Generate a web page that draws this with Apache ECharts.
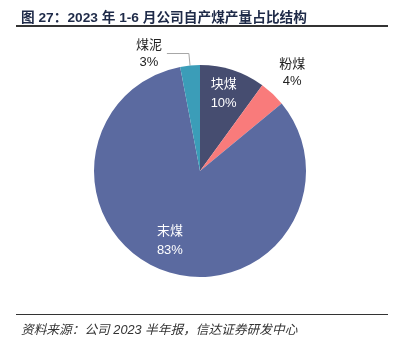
<!DOCTYPE html>
<html>
<head>
<meta charset="utf-8">
<script src="https://cdn.jsdelivr.net/npm/echarts@6/dist/echarts.min.js"></script>
<style>
  html, body { margin: 0; padding: 0; background: #fff; }
  #chart { width: 404px; height: 341px; }
</style>
</head>
<body>
<div id="chart"></div>
<script>
// 2023 H1 self-produced coal output mix
const categories = ['块煤', '粉煤', '末煤', '煤泥'];
const shares = [10, 4, 83, 3];
const colors = ['#464d70', '#f97b7b', '#5b6aa0', '#3b9db8'];
const insideLabelled = ['块煤', '末煤'];

const titleText = '图 27：2023 年 1-6 月公司自产煤产量占比结构';
const sourceText = '资料来源：公司 2023 半年报，信达证券研发中心';

const FONT = '"Liberation Sans", "Noto Sans CJK SC", sans-serif';

const pieData = categories.map((name, i) => ({
  name,
  value: shares[i],
  itemStyle: { color: colors[i] }
}));

const chart = echarts.init(document.getElementById('chart'), null, { renderer: 'canvas' });

chart.setOption({
  animation: false,
  backgroundColor: '#ffffff',
  title: [
    {
      text: titleText,
      left: 16, top: 6,
      textStyle: { fontFamily: FONT, fontSize: 13.7, fontWeight: 'bold', color: '#1e2a48' }
    },
    {
      text: sourceText,
      left: 16, top: 319,
      textStyle: { fontFamily: FONT, fontSize: 12.7, fontWeight: 'normal', fontStyle: 'italic', color: '#333333' }
    }
  ],
  graphic: [
    { type: 'line', shape: { x1: 16, y1: 26, x2: 388, y2: 26 }, style: { stroke: '#333', lineWidth: 2 } },
    { type: 'line', shape: { x1: 16, y1: 314.5, x2: 388, y2: 314.5 }, style: { stroke: '#333', lineWidth: 1 } }
  ],
  series: [
    {
      type: 'pie',
      center: [200, 171],
      radius: [0, 106],
      startAngle: 90,
      clockwise: true,
      silent: true,
      itemStyle: { borderColor: '#ffffff', borderWidth: 0 },
      label: {
        show: true,
        position: 'outside',
        formatter: '{n|{b}}\n{n|{c}%}',
        rich: { n: { fontFamily: FONT, fontSize: 13, lineHeight: 17, color: '#222', align: 'center' } }
      },
      labelLine: { show: true, length: 12, length2: 22, lineStyle: { color: '#a6a6a6', width: 1 } },
      data: pieData.map(d => {
        const inside = insideLabelled.includes(d.name);
        const item = Object.assign({}, d);
        if (inside) {
          item.label = { show: false };
          item.labelLine = { show: false };
        } else if (d.name === '粉煤') {
          item.labelLine = { show: false, length: 20, length2: 0 };
        }
        return item;
      }),
      labelLayout: function (params) {
        if (params.dataIndex === 1) {
          return { dx: -12, dy: -6 };
        }
        return {};
      }
    },
    {
      // transparent overlay that carries the in-slice labels further out from the centre
      type: 'pie',
      center: [200, 171],
      radius: [0, 160],
      startAngle: 90,
      clockwise: true,
      silent: true,
      itemStyle: { color: 'rgba(0,0,0,0)' },
      data: pieData.map(d => ({
        name: d.name,
        value: d.value,
        itemStyle: { color: 'rgba(0,0,0,0)' },
        label: insideLabelled.includes(d.name) ? {
          show: true,
          position: 'inside',
          formatter: '{b}\n{c}%',
          fontFamily: FONT, fontSize: 13, lineHeight: 19, color: '#ffffff'
        } : { show: false },
        labelLine: { show: false }
      })),
      labelLayout: function (params) {
        if (params.dataIndex === 0) return { dx: -2, dy: 2 };
        if (params.dataIndex === 2) return { dx: -2, dy: -8 };
        return {};
      }
    }
  ]
});
</script>
</body>
</html>
